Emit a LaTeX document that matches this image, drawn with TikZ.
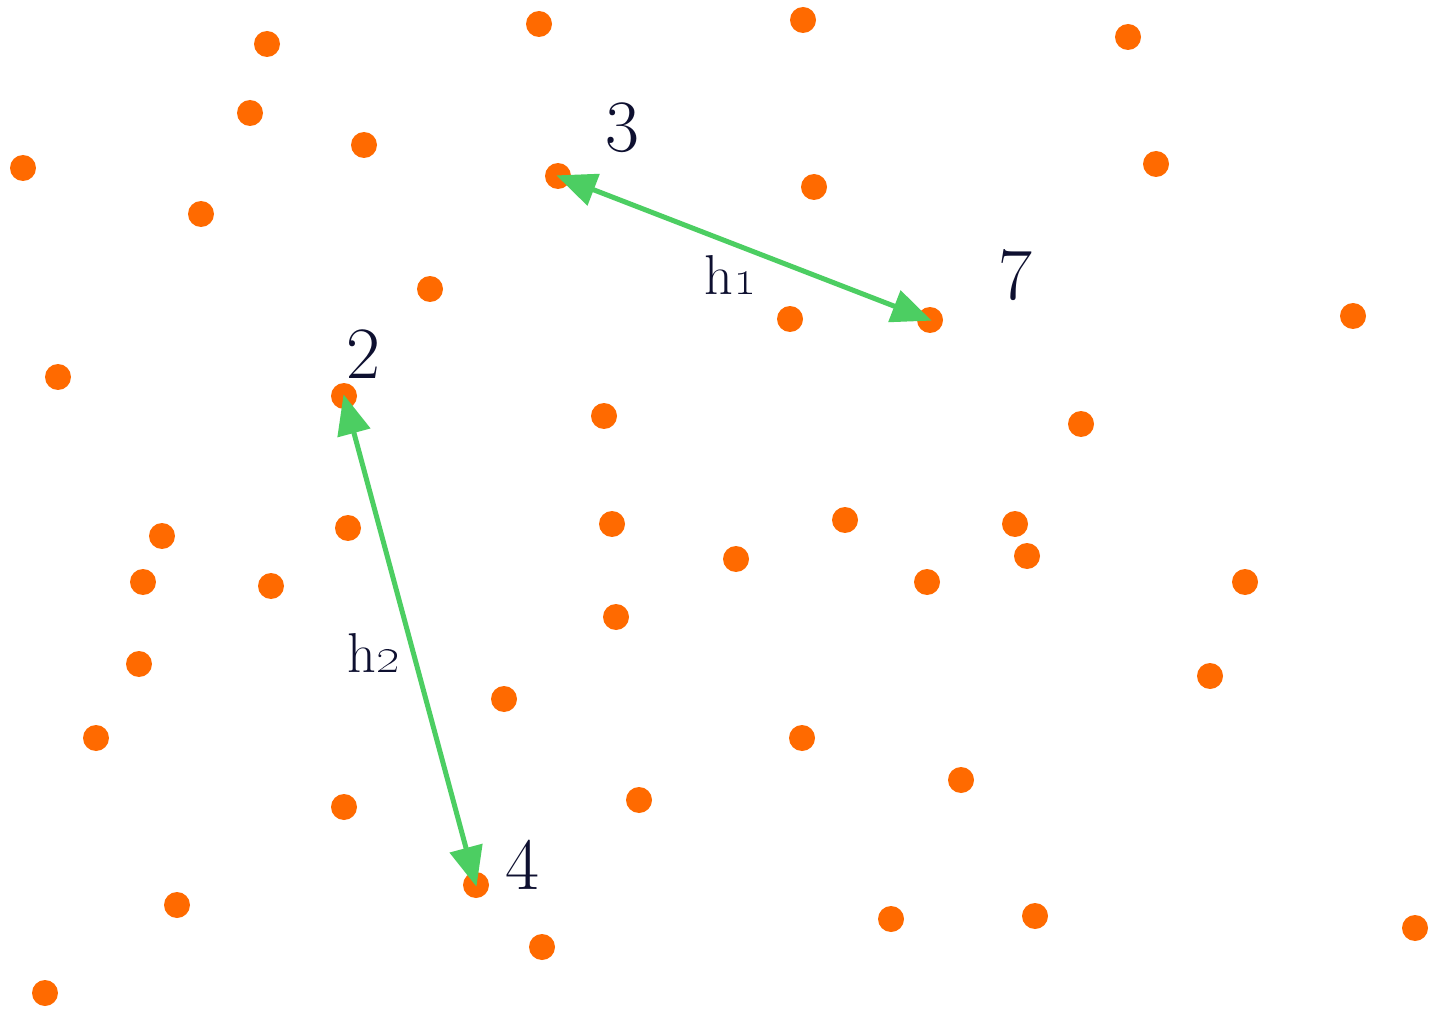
\documentclass[tikz,border=0pt]{standalone}
\usetikzlibrary{arrows.meta}
\definecolor{dotc}{RGB}{255,106,0}
\definecolor{arrc}{RGB}{76,206,98}
\definecolor{txtc}{RGB}{14,16,48}
\begin{document}
\begin{tikzpicture}[x=0.02cm,y=-0.02cm,
  dot/.style={circle,fill=dotc,draw=none,minimum size=0.52cm,inner sep=0pt},
  dist/.style={arrc,line width=0.1cm,{Triangle[length=0.8cm,width=0.66cm]}-{Triangle[length=0.8cm,width=0.66cm]},shorten <=-1pt,shorten >=-1pt},
  numlab/.style={text=txtc,font=\fontsize{42}{42}\selectfont,inner sep=0pt},
  hlab/.style={text=txtc,font=\fontsize{32}{32}\selectfont,inner sep=0pt}]
\useasboundingbox[fill=white] (0,0) rectangle (1433,1013);
\foreach \n/\x/\y in {1/267/44,2/539/24,3/803/20,4/1128/37,5/250/113,6/364/145,7/23/168,8/201/214,9/558/176,10/814/187,11/1156/164,12/430/289,13/790/319,14/930/320,15/1353/316,16/58/377,17/344/396,18/604/416,19/1081/424,20/162/536,21/348/528,22/612/524,23/845/520,24/1015/524,25/1027/556,26/736/559,27/143/582,28/271/586,29/927/582,30/1245/582,31/616/617,32/139/664,33/504/699,34/1210/676,35/96/738,36/802/738,37/961/780,38/344/807,39/639/800,40/177/905,41/476/885,42/891/919,43/1035/916,44/1415/928,45/542/947,46/45/993}
  \node[dot] (p\n) at (\x,\y) {};
\draw[dist] (p9.center) -- (p14.center);
\draw[dist] (p17.center) -- (p41.center);
\node[numlab] (l3) at (622,128) {3};
\node[numlab] (l7) at (1015,275) {7};
\node[numlab] (l2) at (363,354) {2};
\node[numlab] (l4) at (522,865) {4};
\node[hlab] (h1) at (731,275) {h\oldstylenums{1}};
\node[hlab] (h2) at (374,653) {h\oldstylenums{2}};
\end{tikzpicture}
\end{document}
